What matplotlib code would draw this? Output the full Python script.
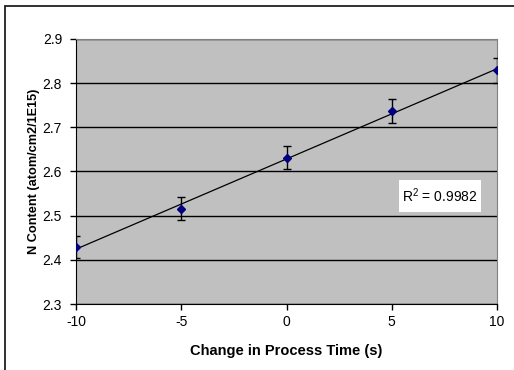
import numpy as np
import matplotlib.pyplot as plt
from matplotlib.patches import Rectangle

plt.rcParams['font.family'] = ['Liberation Sans', 'DejaVu Sans']
plt.rcParams['axes.unicode_minus'] = False

time_change = [-10, -5, 0, 5, 10]
n_content = [2.429, 2.516, 2.631, 2.737, 2.829]
n_error = [0.024, 0.026, 0.026, 0.027, 0.028]
r_squared = 0.9982

fig = plt.figure(figsize=(5.14, 3.70), dpi=100)
# outer chart border (left and top visible)
fig.patches.append(Rectangle((5 / 514, -0.01), 2, 1 - 6 / 370 + 0.01,
                             transform=fig.transFigure, fill=False,
                             edgecolor='#202020', linewidth=1.3))

ax = fig.add_axes([76 / 514, 1 - 304 / 370, 421 / 514, 265 / 370])
ax.set_facecolor('#c0c0c0')

# linear trend line
slope, intercept = np.polyfit(time_change, n_content, 1)
xs = np.array([time_change[0], time_change[-1]])
ax.plot(xs, slope * xs + intercept, color='black', linewidth=0.9, zorder=3)

ax.errorbar(time_change, n_content, yerr=n_error, fmt='D', color='#000080',
            markersize=4.5, ecolor='black', elinewidth=1, capsize=3,
            capthick=1, zorder=4)

ax.set_xlim(-10, 10)
ax.set_ylim(2.3, 2.9)
ax.set_xticks([-10, -5, 0, 5, 10])
ax.set_yticks([2.3, 2.4, 2.5, 2.6, 2.7, 2.8, 2.9])
ax.set_yticklabels(['2.3', '2.4', '2.5', '2.6', '2.7', '2.8', '2.9'])
ax.grid(axis='y', color='black', linewidth=1)
ax.set_axisbelow(True)
ax.tick_params(labelsize=10, length=4, width=1, color='black')
ax.tick_params(axis='x', pad=4)
ax.tick_params(axis='y', pad=6)
for side in ['top', 'right']:
    ax.spines[side].set_color('#808080')
for side in ['left', 'bottom']:
    ax.spines[side].set_color('black')

ax.set_xlabel('Change in Process Time (s)', fontsize=10.5, fontweight='bold', labelpad=11)
ax.set_ylabel('N Content (atom/cm2/1E15)', fontsize=9.2, fontweight='bold', labelpad=2)

# R^2 label box
ax.add_patch(Rectangle((0.767, 0.347), 0.195, 0.121, transform=ax.transAxes,
                       facecolor='white', edgecolor='none', zorder=5))
ax.text(0.865, 0.4075, '$\\mathregular{R^2}$ = %.4f' % r_squared, transform=ax.transAxes,
        ha='center', va='center', fontsize=10, zorder=6)

fig.savefig('out.png', dpi=100)
